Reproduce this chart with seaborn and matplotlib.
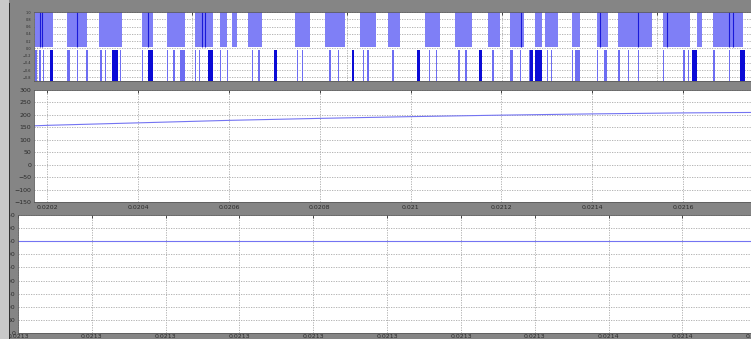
import matplotlib
matplotlib.use("Agg")
import numpy as np
import matplotlib.pyplot as plt
import seaborn as sns
from matplotlib.patches import Rectangle
from matplotlib.ticker import FormatStrFormatter

sns.set_theme(style="white")
plt.rcParams["font.family"] = ["DejaVu Sans"]

# ---- top scope: inverter output pulses, times in microseconds ----
upper_start = [20173, 20244, 20314, 20409, 20464, 20525, 20580, 20607, 20642, 20745,
               20811, 20888, 20950, 21031, 21097, 21170, 21218, 21273, 21295, 21355,
               21410, 21456, 21555, 21630, 21665]
upper_end = [20213, 20288, 20365, 20433, 20503, 20565, 20596, 20618, 20673, 20778,
             20855, 20923, 20976, 21064, 21135, 21196, 21249, 21289, 21324, 21372,
             21434, 21531, 21614, 21641, 21731]
upper_dark = [20184, 20188, 20266, 20422, 20541, 20547, 21244, 21416, 21500, 21564,
              21700, 21710]

lower_start = [20173, 20182, 20191, 20244, 20266, 20285, 20316, 20327, 20360, 20409,
               20464, 20477, 20492, 20525, 20534, 20580, 20596, 20650, 20665, 20750,
               20760, 20820, 20840, 20895, 20905, 20960, 21040, 21055, 21105, 21120,
               21180, 21218, 21240, 21260, 21300, 21310, 21355, 21362, 21410, 21425,
               21456, 21478, 21500, 21555, 21600, 21610, 21665, 21680, 21700]
lower_end = [20178, 20186, 20193, 20250, 20268, 20290, 20321, 20329, 20362, 20411,
             20466, 20481, 20503, 20527, 20536, 20582, 20598, 20653, 20668, 20753,
             20764, 20824, 20843, 20898, 20909, 20963, 21043, 21058, 21108, 21124,
             21184, 21225, 21242, 21263, 21302, 21312, 21358, 21372, 21413, 21432,
             21460, 21480, 21502, 21558, 21603, 21612, 21669, 21682, 21702]
lower_dark_start = [20206, 20343, 20422, 20554, 20700, 20870, 21015, 21150, 21262, 21273,
                    21620, 21724]
lower_dark_end = [20213, 20356, 20433, 20565, 20706, 20876, 21020, 21156, 21269, 21289,
                  21631, 21735]
top_grid_us = [20178, 20519, 20860, 21201, 21542]

# ---- middle scope: dc quantity ----
mid_t = [0.02017, 0.0202, 0.0204, 0.0206, 0.0208, 0.0210, 0.0212, 0.0214, 0.0216, 0.02177]
mid_v = [156, 158, 168, 178, 186, 193, 199, 204, 208, 210]
mid_xticks = [0.0202, 0.0204, 0.0206, 0.0208, 0.0210, 0.0212, 0.0214, 0.0216]
mid_yticks = [-150, -100, -50, 0, 50, 100, 150, 200, 250, 300]

# ---- bottom scope: flat trace ----
bot_t = [0.02132, 0.02136]
bot_v = [349, 349]
bot_xticks = [0.02132, 0.021324, 0.021328, 0.021332, 0.021336, 0.02134,
              0.021344, 0.021348, 0.021352, 0.021356, 0.02136]
bot_yticks = [0, 50, 100, 150, 200, 250, 300, 350, 400, 450]

W, H = 751, 339
fig = plt.figure(figsize=(W / 100, H / 100), dpi=100)
fig.patch.set_facecolor("#858585")

line_col = "#7474f2"
grid_kw = dict(color="#a8a8a8", linestyle=(0, (1.5, 1.5)), linewidth=0.6)
tick_col = "#2b2b2b"


def style_axes(ax):
    ax.set_facecolor("white")
    for s in ax.spines.values():
        s.set_color("#5a5a5a")
        s.set_linewidth(0.6)
    ax.tick_params(direction="in", length=2.5, width=0.6, colors=tick_col,
                   labelsize=4.5, pad=2, top=True, right=False)
    ax.grid(True, **grid_kw)
    ax.set_xlabel("")
    ax.set_ylabel("")


def px_ax(left, top, right, bottom):
    return fig.add_axes([left / W, 1 - bottom / H, (right - left) / W, (bottom - top) / H])


# top panel
ax1 = px_ax(34, 12, 760, 81)
style_axes(ax1)
s = np.array(upper_start) * 1e-6
e = np.array(upper_end) * 1e-6
ax1.broken_barh(list(zip(s, e - s)), (0.04, 0.96), facecolors="#7f7ff6", edgecolor="none")
ax1.vlines(np.array(upper_dark) * 1e-6, 0.04, 1.0, color="#1a1ad8", linewidth=0.8)
s = np.array(lower_start) * 1e-6
e = np.array(lower_end) * 1e-6
ax1.broken_barh(list(zip(s, e - s)), (-0.9, 0.86), facecolors="#6d6df2", edgecolor="none")
s = np.array(lower_dark_start) * 1e-6
e = np.array(lower_dark_end) * 1e-6
ax1.broken_barh(list(zip(s, e - s)), (-0.9, 0.86), facecolors="#0b0bd6", edgecolor="none")
ax1.set_xlim(0.020171, 0.021769)
ax1.set_ylim(-0.9, 1.0)
ax1.set_xticks(np.array(top_grid_us) * 1e-6)
ax1.set_yticks([-0.8, -0.6, -0.4, -0.2, 0, 0.2, 0.4, 0.6, 0.8, 1.0])
ax1.tick_params(labelbottom=False, labelsize=2.5)

# middle panel
ax2 = px_ax(34, 90, 760, 202)
style_axes(ax2)
sns.lineplot(x=mid_t, y=mid_v, ax=ax2, color=line_col, linewidth=0.8)
ax2.set_xlim(0.020171, 0.021769)
ax2.set_ylim(-150, 300)
ax2.set_xticks(mid_xticks)
ax2.set_xticklabels([f"{t:g}" for t in mid_xticks])
ax2.set_yticks(mid_yticks)

# bottom panel
ax3 = px_ax(18, 215, 760, 333)
style_axes(ax3)
sns.lineplot(x=bot_t, y=bot_v, ax=ax3, color=line_col, linewidth=0.8)
ax3.set_xlim(0.02132, 0.0213602)
ax3.set_ylim(0, 450)
ax3.set_xticks(bot_xticks)
ax3.xaxis.set_major_formatter(FormatStrFormatter("%.4f"))
ax3.set_yticks(bot_yticks)
ax3.tick_params(axis="x", pad=1)

# window edge on the left
fig.add_artist(Rectangle((0, 0), 9 / W, 1, transform=fig.transFigure,
                         facecolor="#c9c9c9", edgecolor="none", zorder=10))
fig.add_artist(Rectangle((9 / W, 0.0), 1.2 / W, 0.99, transform=fig.transFigure,
                         facecolor="#303030", edgecolor="none", zorder=10))

fig.savefig("out.png", dpi=100, facecolor=fig.get_facecolor())
